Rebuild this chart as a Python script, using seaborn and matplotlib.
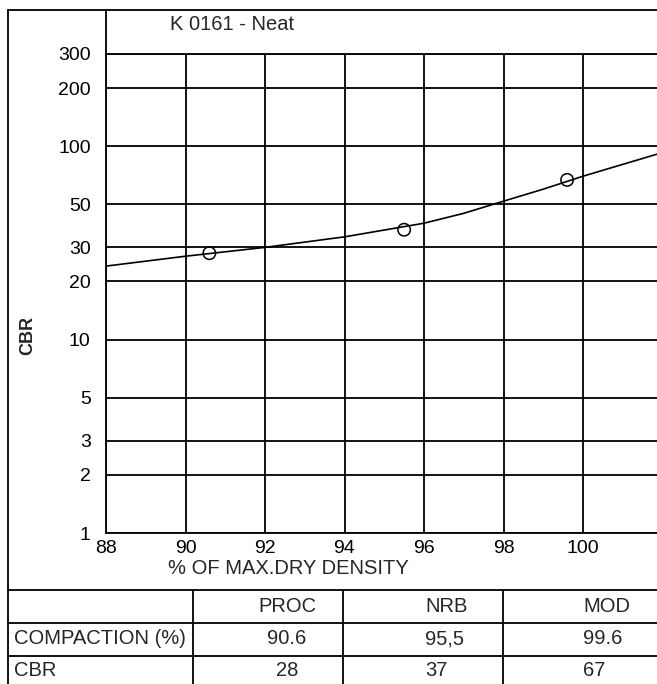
# CBR vs % of max dry density, log scale, with compaction table underneath
import numpy as np
import pandas as pd
import matplotlib
matplotlib.use("Agg")
import matplotlib.pyplot as plt
from matplotlib.lines import Line2D
from matplotlib.patches import Rectangle
import seaborn as sns

# test results
methods = ["PROC", "NRB", "MOD"]
compaction = [90.6, 95.5, 99.6]
compaction_txt = ["90.6", "95,5", "99.6"]
cbr = [28, 37, 67]

# fitted curve
fit_x = [88, 90, 92, 94, 96, 97, 98, 99, 100, 101.86]
fit_cbr = [24, 27, 30, 34, 40, 45, 52, 60, 70, 91]

y_ticks = [1, 2, 3, 5, 10, 20, 30, 50, 100, 200, 300]
x_ticks = [88, 90, 92, 94, 96, 98, 100]
row_labels = ["COMPACTION (%)", "CBR"]

sns.set_theme(style="white")
plt.rcParams["font.family"] = ["Liberation Sans", "DejaVu Sans"]

W, H = 657, 684
fig = plt.figure(figsize=(W / 100, H / 100), dpi=100)

def fx(px):
    return px / W

def fy(py):
    return 1 - py / H

ax = fig.add_axes([fx(106), fy(533), fx(657) - fx(106), fy(54) - fy(533)])
ax.set_yscale("log")

pts = pd.DataFrame({"compaction": compaction, "cbr": cbr})
curve = pd.DataFrame({"x": fit_x, "y": fit_cbr})
sns.lineplot(data=curve, x="x", y="y", ax=ax, color="black", lw=1.2, zorder=4)
sns.scatterplot(data=pts, x="compaction", y="cbr", ax=ax, s=80, marker="o",
                facecolor="none", edgecolor="black", linewidth=1.1, zorder=5)

ax.set_xlim(88, 88 + 551 / 39.75)
ax.set_ylim(1, 300)
ax.set_xticks(x_ticks)
ax.set_xticklabels([str(v) for v in x_ticks])
ax.set_yticks(y_ticks)
ax.set_yticklabels([str(v) for v in y_ticks])
ax.yaxis.set_minor_locator(matplotlib.ticker.NullLocator())
ax.grid(True, which="major", color="black", lw=1.3)
ax.tick_params(axis="both", length=0, labelsize=14, colors="black")
ax.tick_params(axis="y", pad=11)
ax.tick_params(axis="x", pad=5)
ax.set_xlabel("")
ax.set_ylabel("")
for side in ["left", "bottom", "top"]:
    ax.spines[side].set_visible(True)
    ax.spines[side].set_color("black")
    ax.spines[side].set_linewidth(1.3)
ax.spines["right"].set_visible(False)

# titles / labels
fig.text(fx(232), fy(25), "K 0161 - Neat", ha="center", va="center", fontsize=14.5)
fig.text(fx(28), fy(335), "CBR", rotation=90, ha="center", va="center",
         fontsize=13, fontweight="bold")
fig.text(fx(288), fy(568), "% OF MAX.DRY DENSITY", ha="center", va="center", fontsize=14.5)

def hline(y, x0=8, x1=657, lw=1.3):
    fig.add_artist(Line2D([fx(x0), fx(x1)], [fy(y), fy(y)], color="black", lw=lw))

def vline(x, y0, y1, lw=1.3):
    fig.add_artist(Line2D([fx(x), fx(x)], [fy(y0), fy(y1)], color="black", lw=lw))

# outer frame and title box
hline(10)
vline(8, 10, 684)
vline(106, 10, 54)

# table grid
for y in [590, 623, 656]:
    hline(y)
for x in [193, 343, 503]:
    vline(x, 590, 684)

# table text (first column clipped at its border, as in the original)
clip = Rectangle((fx(8), 0), fx(192) - fx(8), 1, transform=fig.transFigure,
                 visible=False)
fig.add_artist(clip)
row_y = [639, 670]
for lab, y in zip(row_labels, row_y):
    t = fig.text(fx(14), fy(y), lab, ha="left", va="center", fontsize=14.5)
    t.set_clip_on(True)
    t.set_clip_path(clip)

col_x = [287, 425, 583]
col_ha = ["center", "left", "left"]
for j in range(3):
    fig.text(fx(col_x[j]), fy(606), methods[j], ha=col_ha[j], va="center", fontsize=14.5)
    fig.text(fx(col_x[j]), fy(639), compaction_txt[j], ha=col_ha[j], va="center", fontsize=14.5)
    fig.text(fx(col_x[j]), fy(670), str(cbr[j]), ha=col_ha[j], va="center", fontsize=14.5)

fig.savefig("out.png", dpi=100, facecolor="white")
